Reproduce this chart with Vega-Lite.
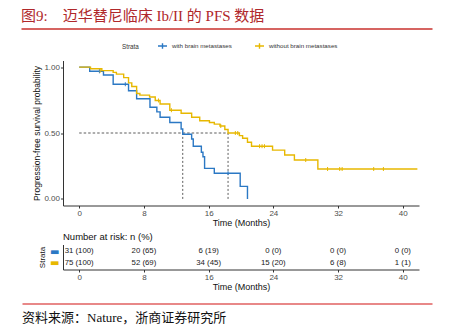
{
  "$schema": "https://vega.github.io/schema/vega-lite/v6.json",
  "padding": {"left": 21, "top": 8.5, "right": 5, "bottom": 5},
  "bounds": "flush",
  "spacing": 39,
  "config": {
    "view": {"stroke": null},
    "font": "Liberation Sans",
    "axis": {
      "grid": false,
      "labelFont": "Liberation Sans",
      "titleFont": "Liberation Sans",
      "labelColor": "#4d4d4d",
      "titleColor": "#111",
      "domainColor": "#333",
      "tickColor": "#333",
      "titleFontWeight": "normal",
      "labelFontSize": 8,
      "titleFontSize": 9,
      "tickSize": 2.5,
      "labelPadding": 1,
      "titlePadding": 1
    }
  },
  "vconcat": [
    {
      "width": 356,
      "height": 12,
      "data": {"values": [{"label": "图9:\u00a0\u00a0\u00a0\u00a0迈华替尼临床 Ib/II 的 PFS 数据"}]},
      "mark": {"type": "text", "align": "left", "baseline": "middle", "fontSize": 15, "font": "Liberation Serif, Noto Sans CJK SC", "color": "#b0282b"},
      "encoding": {
        "x": {"datum": 0, "type": "quantitative", "scale": {"domain": [0, 1], "range": [-42, 369]},
          "axis": {"orient": "bottom", "offset": 7, "domainColor": "#c8302c", "domainWidth": 1.5, "ticks": false, "labels": false, "title": null}},
        "text": {"field": "label"}
      }
    },
    {
      "width": 356,
      "height": 145,
      "layer": [
        {
          "data": {"values": [{"t0": 0, "t1": 18.4, "s": 0.5}]},
          "mark": {"type": "rule", "color": "#333", "strokeWidth": 0.8, "strokeDash": [2.5, 2]},
          "encoding": {
            "x": {"field": "t0", "type": "quantitative"},
            "x2": {"field": "t1"},
            "y": {"field": "s", "type": "quantitative"}
          }
        },
        {
          "data": {"values": [{"t": 12.8, "s0": 0, "s1": 0.5}, {"t": 18.4, "s0": 0, "s1": 0.5}]},
          "mark": {"type": "rule", "color": "#333", "strokeWidth": 0.8, "strokeDash": [2, 2]},
          "encoding": {
            "x": {"field": "t", "type": "quantitative"},
            "y": {"field": "s0", "type": "quantitative"},
            "y2": {"field": "s1"}
          }
        },
        {
          "data": {"values": [
            {"group": "with brain metastases", "t": 0, "s": 1},
            {"group": "with brain metastases", "t": 1.3, "s": 0.968},
            {"group": "with brain metastases", "t": 3.0, "s": 0.94},
            {"group": "with brain metastases", "t": 4.2, "s": 0.87},
            {"group": "with brain metastases", "t": 6.1, "s": 0.82},
            {"group": "with brain metastases", "t": 7.1, "s": 0.76},
            {"group": "with brain metastases", "t": 8.75, "s": 0.695},
            {"group": "with brain metastases", "t": 9.6, "s": 0.66},
            {"group": "with brain metastases", "t": 10.0, "s": 0.62},
            {"group": "with brain metastases", "t": 11.2, "s": 0.58},
            {"group": "with brain metastases", "t": 12.6, "s": 0.53},
            {"group": "with brain metastases", "t": 12.8, "s": 0.49},
            {"group": "with brain metastases", "t": 13.9, "s": 0.455},
            {"group": "with brain metastases", "t": 14.1, "s": 0.4},
            {"group": "with brain metastases", "t": 15.1, "s": 0.354},
            {"group": "with brain metastases", "t": 15.3, "s": 0.32},
            {"group": "with brain metastases", "t": 15.5, "s": 0.232},
            {"group": "with brain metastases", "t": 16.7, "s": 0.195},
            {"group": "with brain metastases", "t": 19.9, "s": 0.095},
            {"group": "with brain metastases", "t": 20.8, "s": 0},
            {"group": "without brain metastases", "t": 0, "s": 1},
            {"group": "without brain metastases", "t": 1.4, "s": 0.987},
            {"group": "without brain metastases", "t": 2.8, "s": 0.973},
            {"group": "without brain metastases", "t": 4.2, "s": 0.96},
            {"group": "without brain metastases", "t": 4.6, "s": 0.947},
            {"group": "without brain metastases", "t": 5.5, "s": 0.92},
            {"group": "without brain metastases", "t": 6.1, "s": 0.88},
            {"group": "without brain metastases", "t": 6.5, "s": 0.853},
            {"group": "without brain metastases", "t": 7.1, "s": 0.8},
            {"group": "without brain metastases", "t": 7.5, "s": 0.787},
            {"group": "without brain metastases", "t": 8.7, "s": 0.773},
            {"group": "without brain metastases", "t": 9.4, "s": 0.747},
            {"group": "without brain metastases", "t": 10.0, "s": 0.72},
            {"group": "without brain metastases", "t": 11.2, "s": 0.673},
            {"group": "without brain metastases", "t": 12.6, "s": 0.65},
            {"group": "without brain metastases", "t": 13.9, "s": 0.62},
            {"group": "without brain metastases", "t": 14.9, "s": 0.593},
            {"group": "without brain metastases", "t": 16.1, "s": 0.58},
            {"group": "without brain metastases", "t": 16.7, "s": 0.567},
            {"group": "without brain metastases", "t": 17.4, "s": 0.553},
            {"group": "without brain metastases", "t": 18.0, "s": 0.527},
            {"group": "without brain metastases", "t": 18.4, "s": 0.5},
            {"group": "without brain metastases", "t": 19.8, "s": 0.48},
            {"group": "without brain metastases", "t": 20.2, "s": 0.46},
            {"group": "without brain metastases", "t": 20.8, "s": 0.43},
            {"group": "without brain metastases", "t": 21.3, "s": 0.4},
            {"group": "without brain metastases", "t": 23.9, "s": 0.37},
            {"group": "without brain metastases", "t": 25.4, "s": 0.333},
            {"group": "without brain metastases", "t": 26.6, "s": 0.295},
            {"group": "without brain metastases", "t": 29.5, "s": 0.227},
            {"group": "without brain metastases", "t": 41.8, "s": 0.227}
          ]},
          "mark": {"type": "line", "interpolate": "step-after", "strokeWidth": 1.4},
          "encoding": {
            "x": {"field": "t", "type": "quantitative",
              "scale": {"domain": [-2, 42], "nice": false, "zero": false},
              "axis": {"values": [0, 8, 16, 24, 32, 40], "title": "Time (Months)"}},
            "y": {"field": "s", "type": "quantitative",
              "scale": {"domain": [-0.05, 1.05], "nice": false, "zero": false},
              "axis": {"values": [0, 0.25, 0.5, 0.75, 1], "format": ".2f", "title": "Progression-free survival probability", "titleFontSize": 8.5, "titlePadding": 2}},
            "color": {"field": "group", "type": "nominal",
              "scale": {"domain": ["with brain metastases", "without brain metastases"], "range": ["#2b78c4", "#e7b800"]},
              "legend": {"title": "Strata", "orient": "none", "legendX": 59, "legendY": 31, "direction": "horizontal",
                "titleOrient": "left", "titleFontSize": 6.3, "titleFontWeight": "normal", "titleColor": "#333",
                "labelFontSize": 6.2, "labelColor": "#333", "symbolType": "M-1,0H1M0,-0.6V0.6", "symbolSize": 81,
                "symbolStrokeWidth": 1.4, "columnPadding": 20, "labelOffset": 4, "titlePadding": 18}}
          }
        },
        {
          "data": {"values": [
            {"group": "with brain metastases", "t": 2.5, "s": 0.968},
            {"group": "with brain metastases", "t": 5.7, "s": 0.87},
            {"group": "with brain metastases", "t": 18.4, "s": 0.195},
            {"group": "without brain metastases", "t": 2.6, "s": 0.973},
            {"group": "without brain metastases", "t": 9.8, "s": 0.747},
            {"group": "without brain metastases", "t": 11.4, "s": 0.673},
            {"group": "without brain metastases", "t": 17.5, "s": 0.553},
            {"group": "without brain metastases", "t": 19.3, "s": 0.5},
            {"group": "without brain metastases", "t": 19.6, "s": 0.5},
            {"group": "without brain metastases", "t": 22.3, "s": 0.4},
            {"group": "without brain metastases", "t": 22.6, "s": 0.4},
            {"group": "without brain metastases", "t": 22.9, "s": 0.4},
            {"group": "without brain metastases", "t": 28.0, "s": 0.295},
            {"group": "without brain metastases", "t": 30.7, "s": 0.227},
            {"group": "without brain metastases", "t": 32.2, "s": 0.227},
            {"group": "without brain metastases", "t": 32.5, "s": 0.227},
            {"group": "without brain metastases", "t": 36.4, "s": 0.227},
            {"group": "without brain metastases", "t": 37.6, "s": 0.227}
          ]},
          "mark": {"type": "point", "shape": "M0,-1V1", "filled": false, "size": 16, "strokeWidth": 1, "opacity": 1},
          "encoding": {
            "x": {"field": "t", "type": "quantitative"},
            "y": {"field": "s", "type": "quantitative"},
            "color": {"field": "group", "type": "nominal", "legend": null}
          }
        },
        {
          "mark": {"type": "text", "text": "P = 0.002", "align": "left", "baseline": "middle", "fontSize": 8.7, "color": "#222"},
          "encoding": {
            "x": {"datum": 0.6, "type": "quantitative"},
            "y": {"datum": 0.207, "type": "quantitative"}
          }
        },
        {
          "mark": {"type": "text", "text": "HR=0.442, 95%CI(0.260, 0.752)", "align": "left", "baseline": "middle", "fontSize": 8.7, "color": "#222"},
          "encoding": {
            "x": {"datum": 0.6, "type": "quantitative"},
            "y": {"datum": 0.127, "type": "quantitative"}
          }
        }
      ]
    },
    {
      "width": 356,
      "height": 25,
      "title": {"text": "Number at risk: n (%)", "anchor": "start", "frame": "group", "fontSize": 9.5, "fontWeight": "normal", "font": "Liberation Sans", "color": "#111", "offset": 3},
      "data": {"values": [
        {"group": "with brain metastases", "t": 0, "label": "31 (100)"},
        {"group": "with brain metastases", "t": 8, "label": "20 (65)"},
        {"group": "with brain metastases", "t": 16, "label": "6 (19)"},
        {"group": "with brain metastases", "t": 24, "label": "0 (0)"},
        {"group": "with brain metastases", "t": 32, "label": "0 (0)"},
        {"group": "with brain metastases", "t": 40, "label": "0 (0)"},
        {"group": "without brain metastases", "t": 0, "label": "75 (100)"},
        {"group": "without brain metastases", "t": 8, "label": "52 (69)"},
        {"group": "without brain metastases", "t": 16, "label": "34 (45)"},
        {"group": "without brain metastases", "t": 24, "label": "15 (20)"},
        {"group": "without brain metastases", "t": 32, "label": "6 (8)"},
        {"group": "without brain metastases", "t": 40, "label": "1 (1)"}
      ]},
      "mark": {"type": "text", "fontSize": 7.8, "color": "#222", "baseline": "middle"},
      "encoding": {
        "x": {"field": "t", "type": "quantitative",
          "scale": {"domain": [-2, 42], "nice": false, "zero": false},
          "axis": {"values": [0, 8, 16, 24, 32, 40], "title": "Time (Months)"}},
        "y": {"field": "group", "type": "nominal",
          "scale": {"type": "point", "domain": ["with brain metastases", "without brain metastases"], "padding": 0.58},
          "axis": {"title": "Strata", "titleFontSize": 8, "titlePadding": 3, "ticks": false, "labelExpr": "'▬'", "labelFont": "DejaVu Sans", "labelFontSize": 10, "labelPadding": 4,
            "labelColor": {"condition": {"test": "datum.value == 'with brain metastases'", "value": "#2b78c4"}, "value": "#e7b800"}}},
        "text": {"field": "label"}
      }
    },
    {
      "width": 356,
      "height": 18,
      "data": {"values": [{"label": "资料来源：Nature，浙商证券研究所"}]},
      "mark": {"type": "text", "align": "left", "baseline": "middle", "fontSize": 13, "font": "Liberation Serif, Noto Sans CJK SC", "color": "#111"},
      "encoding": {
        "x": {"datum": 0, "type": "quantitative", "scale": {"domain": [0, 1], "range": [-41, 369]},
          "axis": {"orient": "top", "offset": 5, "domainColor": "#e06060", "domainWidth": 1.5, "ticks": false, "labels": false, "title": null}},
        "text": {"field": "label"}
      }
    }
  ]
}
